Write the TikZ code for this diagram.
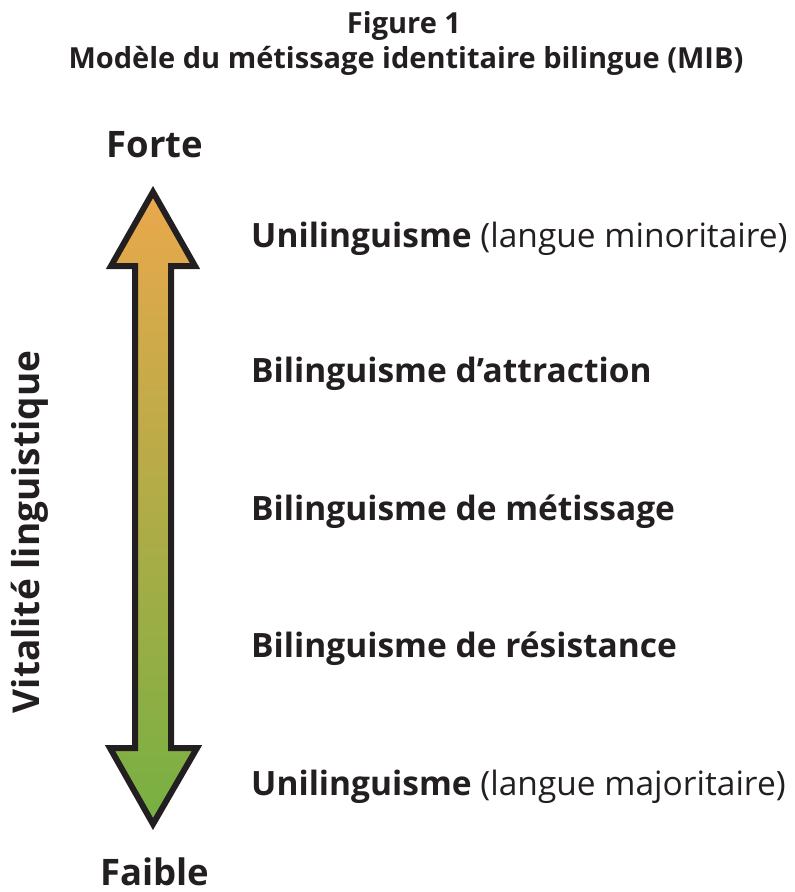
\documentclass[tikz,border=0pt]{standalone}
\usepackage{fontspec}
\setmainfont{Open Sans}
\usepackage{tikz}
\usetikzlibrary{positioning}
\definecolor{forteorange}{RGB}{234,168,76}
\definecolor{faiblegreen}{RGB}{118,176,66}
\definecolor{encre}{RGB}{35,31,32}
\tikzstyle{niveau} = [anchor=base west, inner sep=0pt, text=encre, font=\fontsize{33.5}{38}\selectfont]
\tikzstyle{pole} = [anchor=base, inner sep=0pt, text=encre, font=\fontsize{36.5}{42}\selectfont\bfseries]
\tikzstyle{titre} = [anchor=base, inner sep=0pt, text=encre, font=\fontsize{29}{34}\selectfont\bfseries]
\begin{document}
\begin{tikzpicture}[x=1pt, y=-1pt]
        \useasboundingbox (0,0) rectangle (795,892);

        % Titre
        \node[titre] (fig) at (404,33) {Figure 1};
        \node[titre] (titre) at (406,68) {Modèle du métissage identitaire bilingue (MIB)};

        % Poles
        \node[pole] (forte) at (155,157) {Forte};
        \node[pole] (faible) at (155,885) {Faible};

        % Axe vertical
        \node[anchor=base, inner sep=0pt, rotate=90, text=encre, font=\fontsize{37}{42}\selectfont\bfseries] (vitalite) at (39,532) {Vitalité linguistique};

        % Fleche double
        \draw[line width=6pt, line join=miter, draw=encre,
              top color=forteorange, bottom color=faiblegreen]
            (153,192) -- (195,266) -- (171,266) -- (171,748) -- (197,748) -- (153,824)
            -- (110,748) -- (135,748) -- (135,266) -- (111,266) -- cycle;

        % Niveaux
        \node[niveau] (uni1) at (251,247) {\textbf{Unilinguisme} (langue minoritaire)};
        \node[niveau] (attr) at (251,382) {\textbf{Bilinguisme d’attraction}};
        \node[niveau] (meti) at (251,520) {\textbf{Bilinguisme de métissage}};
        \node[niveau] (resi) at (251,657) {\textbf{Bilinguisme de résistance}};
        \node[niveau] (uni2) at (251,795) {\textbf{Unilinguisme} (langue majoritaire)};

\end{tikzpicture}
\end{document}
